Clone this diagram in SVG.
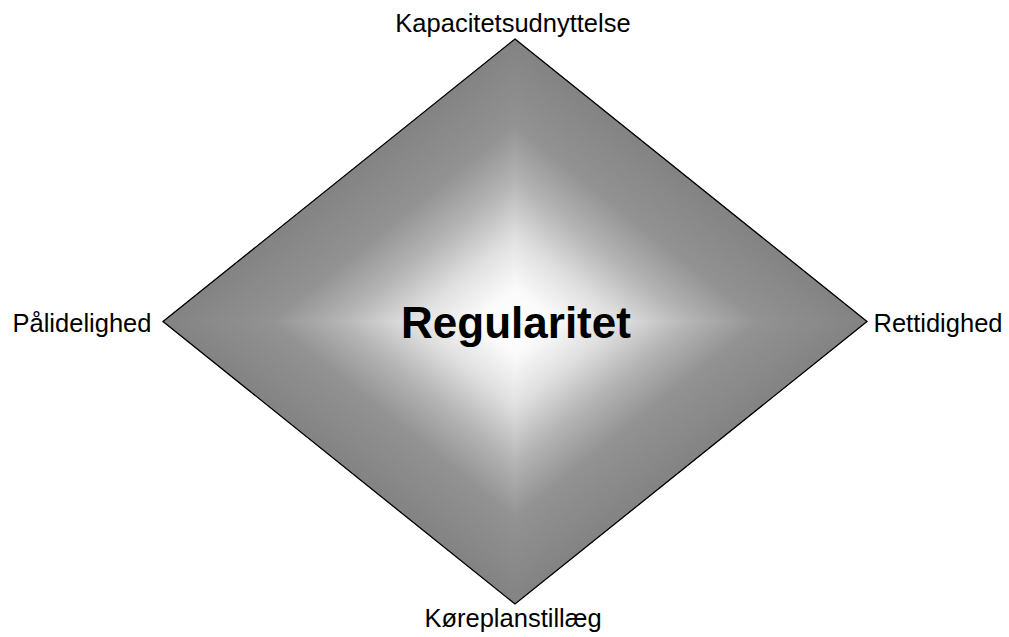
<svg xmlns="http://www.w3.org/2000/svg" width="1009" height="637" viewBox="0 0 1009 637">
  <style>
    .lbl { font-family: "Liberation Sans", Arial, sans-serif; font-size: 25.5px; fill: #000; }
    .title { font-family: "Liberation Sans", Arial, sans-serif; font-size: 44px; font-weight: bold; fill: #000; }
    .q { stroke-width: 1; }
  </style>
  <defs>
    <linearGradient id="gTR" gradientUnits="userSpaceOnUse" x1="515" y1="321.5" x2="652.9" y2="149.7">
      <stop offset="0" stop-color="#ffffff"/>
      <stop offset="0.12" stop-color="#fafafa"/>
      <stop offset="0.3" stop-color="#e0e0e0"/>
      <stop offset="0.5" stop-color="#b4b4b4"/>
      <stop offset="0.7" stop-color="#929292"/>
      <stop offset="1" stop-color="#838383"/>
    </linearGradient>
    <linearGradient id="gBR" href="#gTR" x1="515" y1="321.5" x2="652.9" y2="493.3"/>
    <linearGradient id="gBL" href="#gTR" x1="515" y1="321.5" x2="377.1" y2="493.3"/>
    <linearGradient id="gTL" href="#gTR" x1="515" y1="321.5" x2="377.1" y2="149.7"/>
  </defs>
  <rect width="1009" height="637" fill="#ffffff"/>
  <g id="node-regularitet">
    <polygon class="q" points="515,321.5 515,39 867,321.5" fill="url(#gTR)" stroke="url(#gTR)"/>
    <polygon class="q" points="515,321.5 867,321.5 515,604" fill="url(#gBR)" stroke="url(#gBR)"/>
    <polygon class="q" points="515,321.5 515,604 163,321.5" fill="url(#gBL)" stroke="url(#gBL)"/>
    <polygon class="q" points="515,321.5 163,321.5 515,39" fill="url(#gTL)" stroke="url(#gTL)"/>
    <polygon points="515,39 867,321.5 515,604 163,321.5" fill="none" stroke="#000" stroke-width="1.3" stroke-linejoin="miter"/>
    <text class="title" x="516" y="338" text-anchor="middle">Regularitet</text>
  </g>
  <g id="node-kapacitetsudnyttelse">
    <text class="lbl" x="513" y="32" text-anchor="middle">Kapacitetsudnyttelse</text>
  </g>
  <g id="node-paalidelighed">
    <text class="lbl" x="12.5" y="331.5">Pålidelighed</text>
  </g>
  <g id="node-rettidighed">
    <text class="lbl" x="873.5" y="331.5">Rettidighed</text>
  </g>
  <g id="node-koereplanstillaeg">
    <text class="lbl" x="513" y="627" text-anchor="middle">Køreplanstillæg</text>
  </g>
  <g id="connectors"/>
</svg>
